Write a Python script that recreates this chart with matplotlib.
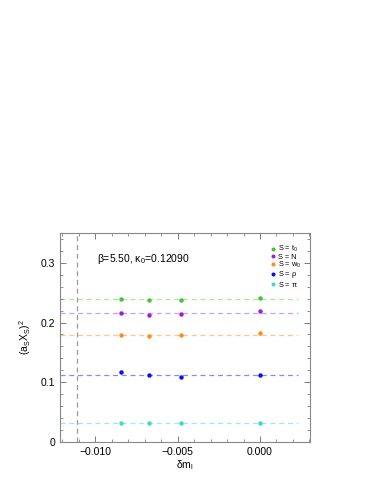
import numpy as np
import matplotlib
matplotlib.use("Agg")
import matplotlib.pyplot as plt

# delta m_l values
dm = [-0.00842, -0.00671, -0.00481, 0.0]

# (a_S X_S)^2 for each scale
y_t0 = [0.2394, 0.2383, 0.2383, 0.2417]
y_N = [0.2161, 0.2128, 0.2144, 0.2189]
y_w0 = [0.1783, 0.1772, 0.1783, 0.1828]
y_rho = [0.1166, 0.1116, 0.1094, 0.1127]
y_pi = [0.0317, 0.0315, 0.0315, 0.0317]

# fitted (constant) values
fit_vals = [0.2392, 0.2155, 0.1789, 0.1116, 0.0315]
labels = ["S = t$_0$", "S = N", "S = w$_0$", r"S = $\rho$", r"S = $\pi$"]
dm_crit = -0.01111

colors = ["#44c43c", "#9a1fe0", "#ff8c1a", "#0a0aff", "#3ed6d0"]
line_colors = ["#a8ec98", "#d49cf4", "#ffc58a", "#8c8cd8", "#9aeaea"]

plt.rcParams['font.family'] = ['Liberation Sans', 'DejaVu Sans']
plt.rcParams['mathtext.default'] = 'regular'
plt.rcParams['xtick.direction'] = 'in'
plt.rcParams['ytick.direction'] = 'in'

fig = plt.figure(figsize=(3.82, 4.94), dpi=100)
ax = fig.add_axes([0.158, 0.1047, 0.6535, 0.4243])

series = [y_t0, y_N, y_w0, y_rho, y_pi]
for ys, c, lc, lab, fv in zip(series, colors, line_colors, labels, fit_vals):
    ax.hlines(fv, -0.0121, 0.0023, colors=lc, linestyles=(0, (4, 3)), lw=0.9, zorder=1)
    ax.plot(dm, ys, 'o', color=c, ms=3.2, mec='none', label=lab, zorder=3)

ax.axvline(dm_crit, color='#999999', ls=(0, (4, 3)), lw=0.9, zorder=1)

ax.set_xlim(-0.0121, 0.00303)
ax.set_ylim(0, 0.35)
ax.set_xticks([-0.010, -0.005, 0.0])
ax.set_xticklabels(["\u22120.010", "\u22120.005", "0.000"])
ax.set_xticks(np.arange(-0.012, 0.0031, 0.001), minor=True)
ax.set_yticks([0, 0.1, 0.2, 0.3])
ax.set_yticklabels(["0", "0.1", "0.2", "0.3"])
ax.set_yticks(np.arange(0, 0.351, 0.02), minor=True)
ax.tick_params(which='both', top=True, right=True, labelsize=7.5, color='#666666')
ax.tick_params(which='major', length=4, width=0.6)
ax.tick_params(which='minor', length=2, width=0.5)
for s in ax.spines.values():
    s.set_color('#888888')
    s.set_linewidth(0.8)

ax.set_xlabel(r"$\delta$m$_l$", fontsize=7.5, labelpad=1)
ax.set_ylabel("(a$_S$X$_S$)$^2$", fontsize=7.5, labelpad=6)

ax.text(-0.0099, 0.3055, r"$\beta$=5.50, $\kappa_0$=0.12090", fontsize=7.5, va='center')

ax.legend(loc='upper right', bbox_to_anchor=(0.985, 0.97), fontsize=5.3, frameon=False,
          handletextpad=0.1, handlelength=1.0, labelspacing=-0.1, borderaxespad=0.3,
          markerscale=0.9)

fig.savefig("out.png", dpi=100)
